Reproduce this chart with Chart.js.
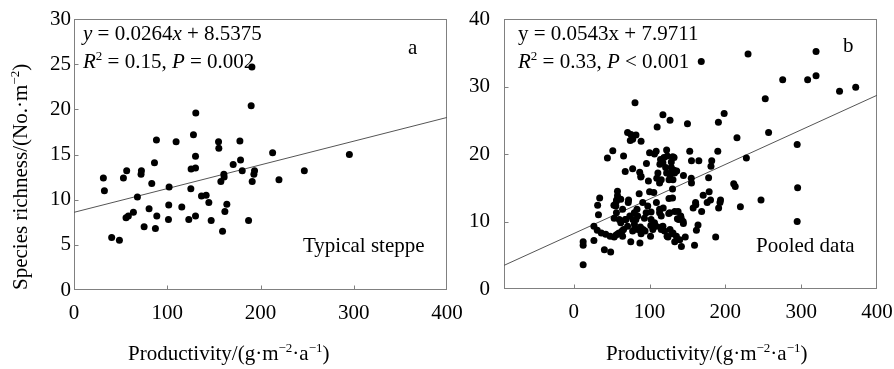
<!DOCTYPE html>
<html>
<head>
<meta charset="utf-8">
<script src="https://cdn.jsdelivr.net/npm/chart.js@4/dist/chart.umd.min.js"></script>
<style>
  html, body { margin: 0; padding: 0; background: #fff; }
  body { width: 894px; height: 369px; position: relative; overflow: hidden; font-family: "Liberation Serif", "Times New Roman", serif; color: #000; }
  canvas { position: absolute; top: 0; }
  #cA { left: 0; }
  #cB { left: 440px; }
  .t { position: absolute; font-size: 21px; line-height: 21px; white-space: nowrap; }
  .t sup { font-size: 13px; line-height: 0; position: relative; top: -8px; vertical-align: baseline; }
  .rot { transform-origin: 0 0; transform: rotate(-90deg); }
</style>
</head>
<body>
<canvas id="cA" width="480" height="369"></canvas>
<canvas id="cB" width="454" height="369"></canvas>

<div class="t" style="left:83px; top:23.4px;"><i>y</i> = 0.0264<i>x</i> + 8.5375</div>
<div class="t" style="left:83px; top:51.4px;"><i>R</i><sup>2</sup> = 0.15, <i>P</i> = 0.002</div>
<div class="t" style="left:408px; top:37.4px;">a</div>
<div class="t" style="left:303px; top:235px;">Typical steppe</div>
<div class="t" style="left:128px; top:343.4px;">Productivity/(g·m<sup>−2</sup>·a<sup>−1</sup>)</div>
<div class="t rot" style="left:10.4px; top:290px;">Species richness/(No.·m<sup>−2</sup>)</div>

<div class="t" style="left:518px; top:23.4px;">y = 0.0543x + 7.9711</div>
<div class="t" style="left:518px; top:51.4px;"><i>R</i><sup>2</sup> = 0.33, <i>P</i> &lt; 0.001</div>
<div class="t" style="left:843px; top:35px;">b</div>
<div class="t" style="left:756px; top:234.7px;">Pooled data</div>
<div class="t" style="left:606px; top:343.4px;">Productivity/(g·m<sup>−2</sup>·a<sup>−1</sup>)</div>

<script>
// ---- Data: panel a (typical steppe) ----
const steppeX = [31.5,32.6,40.4,48.7,53,56.5,55.8,58.3,63.7,68,72.3,71.9,75.2,80.5,83.4,86.3,88.4,88.8,87.3,101.6,102,101.3,109.5,115.6,123.1,125.3,125.6,130.3,128.1,130.6,130.3,130.3,136.7,141.7,144.6,147.1,155,155.3,157.5,159.3,160.7,161,161.8,163.9,170.7,177.9,178.6,180.4,187.2,190.8,190,191.1,192.9,193.6,213,219.8,247,295.3];
const steppeY = [12.4,11.0,5.8,5.5,12.4,13.2,8.0,8.2,8.6,10.3,13.2,12.8,7.0,9.0,11.8,14.1,16.6,8.2,6.8,9.4,11.4,7.8,16.4,9.2,7.8,11.2,13.4,13.5,17.2,19.6,14.8,8.2,10.4,10.5,9.7,7.7,16.4,15.7,12.0,6.5,12.8,12.5,8.7,9.5,13.9,16.5,14.4,13.2,7.7,24.7,20.4,12.0,12.8,13.2,15.2,12.2,13.2,15.0];

// ---- Data: panel b (pooled = steppe + other sites) ----
const otherX = [168.2,229.9,319.6,275.6,308.5,319.6,252.6,350.6,371.9,198.4,257,215.3,294.7,227.7,211,294.7,
  165,155.3,153,150,182,181,176,168.7,144.7,135.8,132.3,
  12.4,12.4,12.4,26.6,34.2,26.6,31,36.4,42.2,48,53.3,44.4,51.5,57.7,57.7,56.3,55.5,56.3,53.3,60,62,64.4,62,65.7,67.9,68.8,
  71,75.5,77.7,74.6,82.1,80.8,88.8,77.7,87,88.8,74,78,82,80,77.7,84.3,
  95.9,100,108.7,106.5,98.5,100,105.6,110,117.6,127,114.5,119,123.4,122.5,113.6,117.6,128.7,132.3,128.7,133,130.9,111,113.2,115.4,121.2,122.5,127,125.7,
  126.5,133.2,137.6,141.1,138.5,144.3,113.2,115.4,113.2,117.6,115.4,119.8,127,130.9,135.4,139.8,124.3,142,133.2,109,118,
  91,95.5,97.6,93.2,102,106.5,108.7,104.3,91.4,94.1,87.9,79.9,84.3,71,65.7,59.9,64.4];
const otherY = [33.7,34.8,35.2,31.0,31.0,31.6,28.2,29.3,29.9,26.0,23.2,22.4,21.4,19.4,15.6,10.0,
  19.0,19.0,20.4,24.5,19.0,18.2,12.8,11.5,16.8,17.5,17.6,
  3.6,7.0,6.5,7.2,13.5,9.3,8.7,8.3,8.1,7.8,7.7,19.4,20.5,14.5,13.8,13.0,12.3,11.3,10.5,10.3,9.8,11.8,13.3,19.7,17.4,10.3,
  23.2,22.9,22.2,22.0,22.8,27.6,21.9,17.8,17.3,16.7,10.8,10.3,10.3,9.6,8.6,8.8,
  18.6,20.2,20.4,20.0,16.0,14.4,14.3,24.0,25.8,25.0,19.2,19.5,19.7,20.6,18.5,18.7,18.8,19.5,18.0,17.2,16.2,17.2,15.7,16.2,18.0,17.2,16.9,16.2,
  11.3,11.5,11.5,10.8,10.3,10.0,11.8,10.8,11.3,9.3,8.8,8.6,8.8,8.3,7.8,7.3,7.7,6.3,7.0,12.8,12.0,
  12.8,11.3,12.3,10.5,10.3,9.8,9.3,8.8,8.8,8.6,9.2,11.3,10.8,9.3,8.8,8.3,7.8];

// ---- Fitted lines (as drawn) ----
const lineAX = [0, 400];
const lineAY = [8.6, 19.1];
const lineBX = [-92, 400];
const lineBY = [3.5, 28.7];

// ---- Axis ticks ----
const aXTicks = [0, 100, 200, 300, 400];
const aYTicks = [0, 5, 10, 15, 20, 25, 30];
const bXTicks = [0, 100, 200, 300, 400];
const bYTicks = [0, 10, 20, 30, 40];

const pts = (xs, ys) => xs.map((x, i) => ({ x: x, y: ys[i] }));
const pooledX = steppeX.concat(otherX);
const pooledY = steppeY.concat(otherY);

const frame = {
  id: 'frame',
  beforeDatasetsDraw(chart, args, opts) {
    const { ctx, chartArea: a, scales: { x, y } } = chart;
    ctx.save();
    ctx.strokeStyle = '#808080';
    ctx.lineWidth = 1;
    const L = Math.round(a.left) + 0.5, T = Math.round(a.top) + 0.5;
    const R = Math.round(a.right) - 0.5, B = Math.round(a.bottom) - 0.5;
    ctx.strokeRect(L, T, R - L, B - T);
    ctx.beginPath();
    opts.xTicks.forEach(v => {
      const px = Math.round(x.getPixelForValue(v)) + 0.5;
      if (px > L + 1 && px < R - 1) { ctx.moveTo(px, B); ctx.lineTo(px, B - 4); }
    });
    opts.yTicks.forEach(v => {
      const py = Math.round(y.getPixelForValue(v)) + 0.5;
      if (py > T + 1 && py < B - 1) { ctx.moveTo(L, py); ctx.lineTo(L + 4, py); }
    });
    ctx.stroke();
    ctx.restore();
  }
};

const tickFont = { family: '"Liberation Serif", "Times New Roman", serif', size: 21 };
const noPad = s => { s.paddingLeft = 0; s.paddingRight = 0; s.paddingTop = 0; s.paddingBottom = 0; };

function makeChart(id, dataXs, dataYs, lx, ly, xr, yr, xTicks, yTicks, yW, xH, pad, yPad) {
  return new Chart(document.getElementById(id), {
    type: 'scatter',
    data: {
      datasets: [
        { type: 'line', data: pts(lx, ly), borderColor: '#555', borderWidth: 1, pointRadius: 0, fill: false, order: 2 },
        { data: pts(dataXs, dataYs), pointRadius: 3.5, pointBackgroundColor: '#000', pointBorderWidth: 0, pointBorderColor: '#000', order: 1 }
      ]
    },
    options: {
      responsive: false,
      animation: false,
      events: [],
      layout: { padding: pad, autoPadding: false },
      plugins: { legend: { display: false }, tooltip: { enabled: false }, frame: { xTicks: xTicks, yTicks: yTicks } },
      scales: {
        x: {
          type: 'linear', min: xr[0], max: xr[1],
          grid: { display: false, drawTicks: false },
          border: { display: false },
          afterBuildTicks: s => { s.ticks = xTicks.map(v => ({ value: v })); },
          afterFit: s => { s.height = xH; noPad(s); },
          ticks: { font: tickFont, color: '#000', padding: 11, maxRotation: 0, autoSkip: false }
        },
        y: {
          type: 'linear', min: yr[0], max: yr[1],
          grid: { display: false, drawTicks: false },
          border: { display: false },
          afterBuildTicks: s => { s.ticks = yTicks.map(v => ({ value: v })); },
          afterFit: s => { s.width = yW; noPad(s); },
          ticks: { font: tickFont, color: '#000', padding: yPad, autoSkip: false }
        }
      }
    },
    plugins: [frame]
  });
}

makeChart('cA', steppeX, steppeY, lineAX, lineAY, [0, 400], [0, 30], aXTicks, aYTicks, 74, 79,
  { left: 0, top: 19, right: 33, bottom: 0 }, 3);
makeChart('cB', pooledX, pooledY, lineBX, lineBY, [-92, 400], [0, 40], bXTicks, bYTicks, 64, 80,
  { left: 0, top: 19, right: 17, bottom: 0 }, 14);
</script>
</body>
</html>
